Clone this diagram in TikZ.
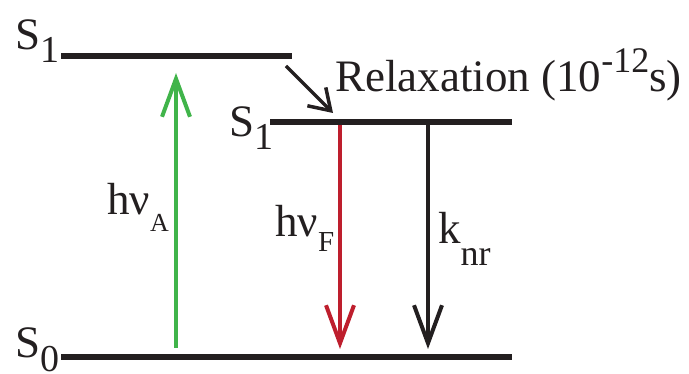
\documentclass[tikz,border=0pt]{standalone}
\usepackage{fontspec}
\setmainfont{Liberation Serif}
\usetikzlibrary{arrows.meta}
\definecolor{absgreen}{RGB}{64,180,74}
\definecolor{fluored}{RGB}{190,30,45}
\definecolor{inkblack}{RGB}{35,31,32}
\newcommand{\dropsub}[3]{\raisebox{-#1pt}{\fontsize{#2}{#2}\selectfont #3}}
\newcommand{\upsup}[3]{\raisebox{#1pt}{\fontsize{#2}{#2}\selectfont #3}}
\begin{document}
\begin{tikzpicture}[x=1pt,y=-1pt,
  level/.style={line width=6pt, draw=inkblack},
  trans/.style={line width=4pt, -{Straight Barb[length=38pt,width=28pt]}},
  relaxarrow/.style={line width=3.5pt, draw=inkblack, -{Straight Barb[length=20pt,width=26pt]}},
  lbl/.style={anchor=base west, inner sep=0pt, font=\fontsize{45}{45}\selectfont, text=inkblack}]
\useasboundingbox (0,0) rectangle (689,374);
% levels
\coordinate (s1aL) at (61,56);
\coordinate (s1aR) at (292,56);
\coordinate (s1bL) at (270,122);
\coordinate (s1bR) at (512,122);
\coordinate (s0L) at (61,357);
\coordinate (s0R) at (512,357);
\draw[level] (s1aL) -- (s1aR);
\draw[level] (s1bL) -- (s1bR);
\draw[level] (s0L) -- (s0R);
% labels
\node[lbl] (labS1a) at (15,50) {S\dropsub{13}{38}{1}};
\node[lbl] (labS1b) at (229,137) {S\dropsub{13}{38}{1}};
\node[lbl] (labS0) at (15,358) {S\dropsub{14}{38}{0}};
\node[lbl] (labRelax) at (335,92) {Relaxation (10\upsup{19}{36}{-12}s)};
\node[lbl] (labA) at (107,215) {hν\dropsub{17}{26}{A}};
\node[lbl] (labF) at (275,237) {hν\dropsub{15}{29}{F}};
\node[lbl] (labK) at (438,244) {k\dropsub{22}{36}{nr}};
% transitions
\coordinate (gBot) at (176,348);
\coordinate (gTop) at (176,73);
\coordinate (rTop) at (340,125);
\coordinate (rBot) at (340,349);
\coordinate (kTop) at (428,125);
\coordinate (kBot) at (428,349);
\coordinate (relS) at (286,66);
\coordinate (relE) at (333,113);
\draw[trans, draw=absgreen] (gBot) -- (gTop);
\draw[trans, draw=fluored] (rTop) -- (rBot);
\draw[trans, draw=inkblack] (kTop) -- (kBot);
\draw[relaxarrow] (relS) -- (relE);
\end{tikzpicture}
\end{document}
